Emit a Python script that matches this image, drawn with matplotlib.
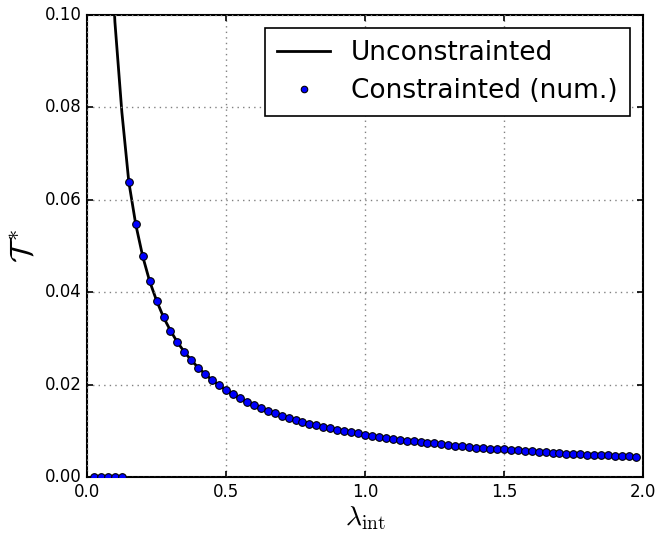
import matplotlib
matplotlib.use("Agg")
import matplotlib.pyplot as plt
import numpy as np

plt.style.use('classic')

# Unconstrained curve (line) head values before constrained points start
lam_line = [0.075, 0.100, 0.125]
T_line_head = [0.1300, 0.0985, 0.0790]

# Constrained (numerical) points
lam_pts = [0.025, 0.050, 0.075, 0.100, 0.125,
           0.150, 0.175, 0.200, 0.225, 0.250, 0.275, 0.300, 0.325, 0.350, 0.375,
           0.400, 0.425, 0.450, 0.475, 0.500, 0.525, 0.550, 0.575, 0.600, 0.625,
           0.650, 0.675, 0.700, 0.725, 0.750, 0.775, 0.800, 0.825, 0.850, 0.875,
           0.900, 0.925, 0.950, 0.975, 1.000, 1.025, 1.050, 1.075, 1.100, 1.125,
           1.150, 1.175, 1.200, 1.225, 1.250, 1.275, 1.300, 1.325, 1.350, 1.375,
           1.400, 1.425, 1.450, 1.475, 1.500, 1.525, 1.550, 1.575, 1.600, 1.625,
           1.650, 1.675, 1.700, 1.725, 1.750, 1.775, 1.800, 1.825, 1.850, 1.875,
           1.900, 1.925, 1.950, 1.975]
T_pts = [0.0, 0.0, 0.0, 0.0, 0.0,
         0.0639, 0.0547, 0.0478, 0.0424, 0.0382, 0.0346, 0.0317, 0.0292, 0.0271, 0.0253,
         0.0237, 0.0223, 0.0210, 0.0199, 0.0189, 0.0179, 0.0171, 0.0163, 0.0156, 0.0150,
         0.0144, 0.0139, 0.0133, 0.0129, 0.0124, 0.0120, 0.0116, 0.0113, 0.0109, 0.0106,
         0.0103, 0.0100, 0.0097, 0.0095, 0.0092, 0.0090, 0.0087, 0.0085, 0.0083, 0.0081,
         0.0079, 0.0078, 0.0076, 0.0074, 0.0073, 0.0071, 0.0070, 0.0068, 0.0067, 0.0066,
         0.0064, 0.0063, 0.0062, 0.0061, 0.0060, 0.0059, 0.0058, 0.0057, 0.0056, 0.0055,
         0.0054, 0.0053, 0.0052, 0.0051, 0.0051, 0.0050, 0.0049, 0.0048, 0.0048, 0.0047,
         0.0046, 0.0046, 0.0045, 0.0044]

n_zero = 5
lam_u = lam_line + lam_pts[n_zero:]
T_u = T_line_head + T_pts[n_zero:]

fig = plt.figure(figsize=(6.6, 5.35), dpi=100, facecolor='white')
ax = fig.add_axes([0.132, 0.108, 0.842, 0.864])

ax.plot(lam_u, T_u, color='black', lw=2, label='Unconstrainted', zorder=2)
ax.plot(lam_pts, T_pts, 'o', color='blue', markeredgecolor='black', markersize=5.5,
        markeredgewidth=0.8, label='Constrainted (num.)', zorder=3)

ax.set_xlim(0, 2.0)
ax.set_ylim(0, 0.10)
ax.set_xticks([0.0, 0.5, 1.0, 1.5, 2.0])
ax.set_yticks([0.0, 0.02, 0.04, 0.06, 0.08, 0.10])
ax.set_yticklabels(['0.00', '0.02', '0.04', '0.06', '0.08', '0.10'])
ax.grid(True, color='gray', linestyle=':', linewidth=1)
for s in ax.spines.values():
    s.set_linewidth(1.5)
ax.tick_params(width=1.2)
ax.set_xlabel(r'$\lambda_{\rm int}$', fontsize=20, labelpad=2)
ax.set_ylabel(r'$\mathcal{T}^*$', fontsize=23, labelpad=4)

leg = ax.legend(loc='upper right', numpoints=1, fontsize=19, markerscale=0.85,
                handlelength=2.0, handletextpad=0.8, borderpad=0.45, labelspacing=0.45,
                borderaxespad=0.5)
leg.get_frame().set_linewidth(1.2)

fig.savefig('out.png', dpi=100, facecolor='white')
